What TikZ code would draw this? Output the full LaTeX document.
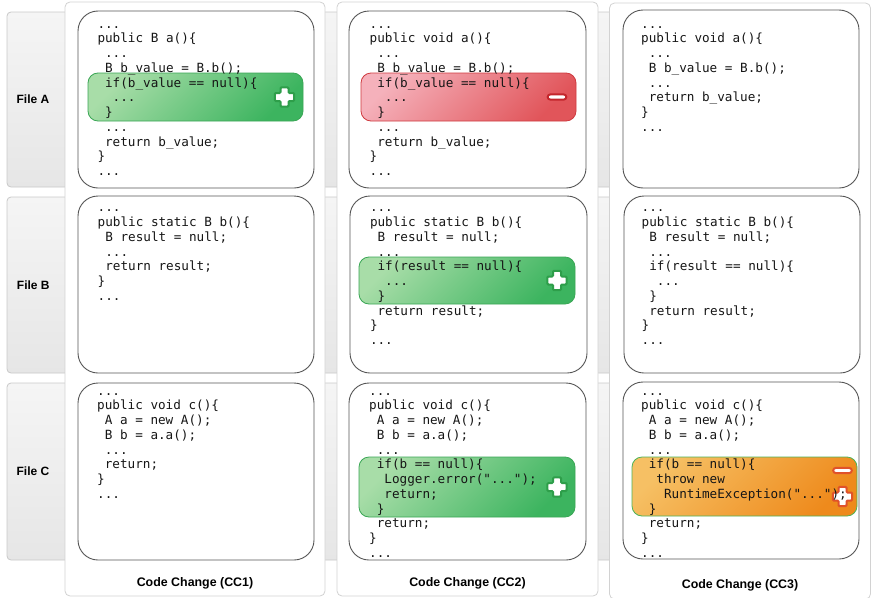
\documentclass[tikz,border=0pt]{standalone}
\usepackage{fontspec}
\setmainfont{Liberation Sans}
\newfontfamily\codefont{DejaVu Sans Mono}
\usetikzlibrary{fit}

\definecolor{bandtop}{HTML}{F5F5F5}
\definecolor{bandbot}{HTML}{E6E6E6}
\definecolor{bandline}{HTML}{C8C8C8}
\definecolor{panelline}{HTML}{D2D2D2}
\definecolor{boxline}{HTML}{555555}
\definecolor{codeink}{HTML}{161616}
\definecolor{addlight}{HTML}{A8DDA8}
\definecolor{adddark}{HTML}{3CB45F}
\definecolor{addline}{HTML}{3AA655}
\definecolor{addicon}{HTML}{2E9E4A}
\definecolor{dellight}{HTML}{F5B1BB}
\definecolor{deldark}{HTML}{E1555A}
\definecolor{delline}{HTML}{CF3A3F}
\definecolor{delicon}{HTML}{C3262C}
\definecolor{modlight}{HTML}{F6C064}
\definecolor{moddark}{HTML}{EE8A1C}
\definecolor{modline}{HTML}{4DB357}
\definecolor{modicon}{HTML}{E0522A}

% one character of indentation in the monospaced code
\newcommand\ind{\hphantom{0}}

\tikzset{
  band/.style={draw=bandline, line width=0.8pt, rounded corners=4pt,
    top color=bandtop, bottom color=bandbot, inner sep=0pt},
  panel/.style={draw=panelline, line width=0.8pt, fill=white,
    rounded corners=5pt, inner sep=0pt},
  codebox/.style={draw=boxline, line width=0.9pt, fill=white,
    rounded corners=20pt, inner sep=0pt},
  hladd/.style={draw=addline, line width=0.8pt, rounded corners=10pt, inner sep=0pt,
    top color=addlight, bottom color=adddark, shading angle=45},
  hldel/.style={draw=delline, line width=0.8pt, rounded corners=10pt, inner sep=0pt,
    top color=dellight, bottom color=deldark, shading angle=45},
  hlmod/.style={draw=modline, line width=0.8pt, rounded corners=10pt, inner sep=0pt,
    top color=modlight, bottom color=moddark, shading angle=45},
  code/.style={font=\codefont\fontsize{12.65}{14.75}\selectfont, align=left,
    anchor=north west, inner sep=0pt, text=codeink},
  rowlabel/.style={font=\bfseries\fontsize{12}{14}\selectfont, inner sep=0pt},
  collabel/.style={font=\bfseries\fontsize{12.4}{14}\selectfont, inner sep=0pt},
  pics/plusicon/.style={code={
    \draw[line width=2pt, fill=white, draw=#1, rounded corners=1pt]
      (-4,-9.6) -- (4,-9.6) -- (4,-4) -- (9.6,-4) -- (9.6,4) -- (4,4) -- (4,9.6)
      -- (-4,9.6) -- (-4,4) -- (-9.6,4) -- (-9.6,-4) -- (-4,-4) -- cycle;
  }},
  pics/minusicon/.style={code={
    \draw[line width=2pt, fill=white, draw=#1, rounded corners=2.6pt]
      (-9.3,-2.6) rectangle (9.3,2.6);
  }},
}

\begin{document}
\begin{tikzpicture}[x=1pt, y=-1pt]
\useasboundingbox (0,0) rectangle (872,597);

% file rows in the background
\node[band, fit={(7,12) (866,187)}] (bandA) {};
\node[band, fit={(7,197) (866,373)}] (bandB) {};
\node[band, fit={(7,383) (866,560)}] (bandC) {};

% code change columns
\node[panel, fit={(65,2) (325,596)}] (cc1) {};
\node[panel, fit={(337,2) (598,596)}] (cc2) {};
\node[panel, fit={(609.5,3) (870.5,599)}] (cc3) {};

% code boxes
\node[codebox, fit={(78,11) (314,188)}] (a1) {};
\node[codebox, fit={(349,11) (586,188)}] (a2) {};
\node[codebox, fit={(623,10) (859,188)}] (a3) {};
\node[codebox, fit={(78,196) (314,373)}] (b1) {};
\node[codebox, fit={(350,196) (587,373)}] (b2) {};
\node[codebox, fit={(624,196) (860,373)}] (b3) {};
\node[codebox, fit={(78,383) (314,560)}] (c1) {};
\node[codebox, fit={(349,383) (586,560)}] (c2) {};
\node[codebox, fit={(623,382) (859,559)}] (c3) {};

% changed regions
\node[hladd, fit={(88,73) (303,121)}] (hA1) {};
\node[hldel, fit={(361,73) (576,121)}] (hA2) {};
\node[hladd, fit={(359,257) (575,304)}] (hB2) {};
\node[hladd, fit={(359,457) (575,517)}] (hC2) {};
\node[hlmod, fit={(632,457) (857,516)}] (hC3) {};

% change markers
\pic at (284.5,97) {plusicon=addicon};
\pic at (557,97) {minusicon=delicon};
\pic at (557,280.5) {plusicon=addicon};
\pic at (557,487) {plusicon=addicon};
\pic at (842.5,470.5) {minusicon=modicon};
\pic at (842.5,496.5) {plusicon=modicon};

% code of file A
\node[code] (tA1) at (97.3,17.6) {\strut...\\
public B a()\{\\
\ind...\\
\ind B b\_value = B.b();\\
\ind if(b\_value == null)\{\\
\ind\ind...\\
\ind\}\\
\ind...\\
\ind return b\_value;\\
\}\\
...};
\node[code] (tA2) at (369.5,17.6) {\strut...\\
public void a()\{\\
\ind...\\
\ind B b\_value = B.b();\\
\ind if(b\_value == null)\{\\
\ind\ind...\\
\ind\}\\
\ind...\\
\ind return b\_value;\\
\}\\
...};
\node[code] (tA3) at (641,17.6) {\strut...\\
public void a()\{\\
\ind...\\
\ind B b\_value = B.b();\\
\ind...\\
\ind return b\_value;\\
\}\\
...};

% code of file B
\node[code] (tB1) at (97.5,201.4) {\strut...\\
public static B b()\{\\
\ind B result = null;\\
\ind...\\
\ind return result;\\
\}\\
...};
\node[code] (tB2) at (369.8,201.4) {\strut...\\
public static B b()\{\\
\ind B result = null;\\
\ind...\\
\ind if(result == null)\{\\
\ind\ind...\\
\ind\}\\
\ind return result;\\
\}\\
...};
\node[code] (tB3) at (641.5,201.4) {\strut...\\
public static B b()\{\\
\ind B result = null;\\
\ind...\\
\ind if(result == null)\{\\
\ind\ind...\\
\ind\}\\
\ind return result;\\
\}\\
...};

% code of file C
\node[code] (tC1) at (97,384.6) {\strut...\\
public void c()\{\\
\ind A a = new A();\\
\ind B b = a.a();\\
\ind...\\
\ind return;\\
\}\\
...};
\node[code] (tC2) at (369,384.6) {\strut...\\
public void c()\{\\
\ind A a = new A();\\
\ind B b = a.a();\\
\ind...\\
\ind if(b == null)\{\\
\ind\ind Logger.error("...");\\
\ind\ind return;\\
\ind\}\\
\ind return;\\
\}\\
...};
\node[code] (tC3) at (641,384.6) {\strut...\\
public void c()\{\\
\ind A a = new A();\\
\ind B b = a.a();\\
\ind...\\
\ind if(b == null)\{\\
\ind\ind throw new\\
\ind\ind\ind RuntimeException("...");\\
\ind\}\\
\ind return;\\
\}\\
...};

% row and column titles
\node[rowlabel] (labA) at (33,99) {File A};
\node[rowlabel] (labB) at (33.3,285) {File B};
\node[rowlabel] (labC) at (33,471) {File C};
\node[collabel] (lab1) at (195,583.5) {Code Change (CC1)};
\node[collabel] (lab2) at (467.5,583.5) {Code Change (CC2)};
\node[collabel] (lab3) at (740,585) {Code Change (CC3)};
\end{tikzpicture}
\end{document}
